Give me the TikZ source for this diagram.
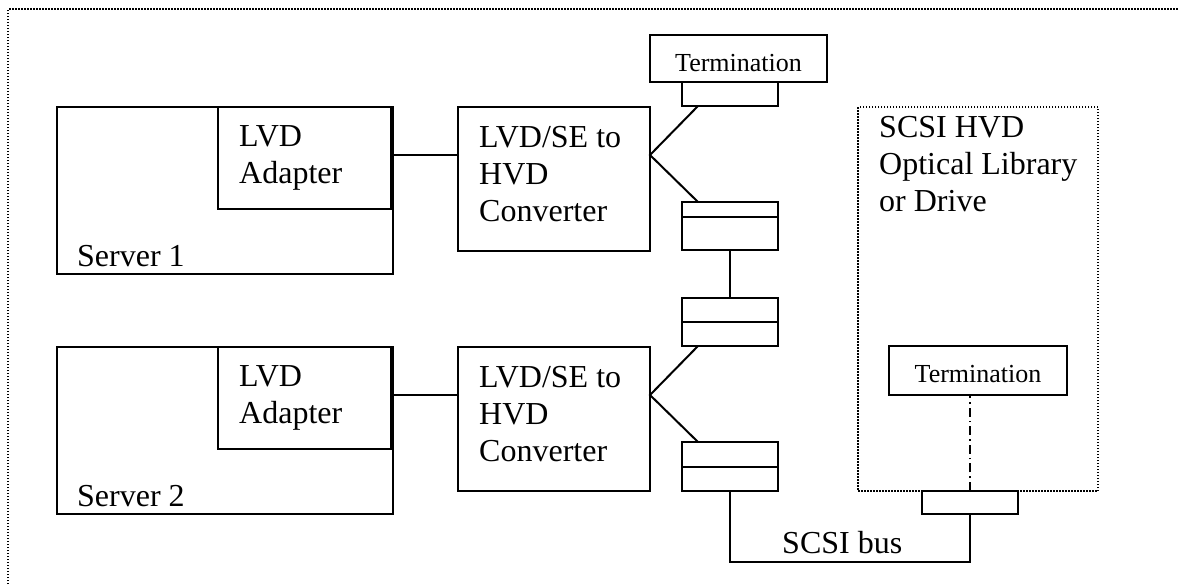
\documentclass[tikz,border=0pt]{standalone}
\usepackage{fontspec}
\setmainfont{Liberation Serif}
\begin{document}
\begin{tikzpicture}[x=1pt,y=-1pt,
  box/.style={draw,line width=2pt,inner sep=0pt,outer sep=0pt,anchor=north west},
  wire/.style={line width=2pt},
  frame/.style={line width=1.8pt,dash pattern=on 1.5pt off 1.5pt},
  dashdot/.style={line width=2pt,dash pattern=on 9pt off 4pt on 1.6pt off 4pt},
  big/.style={font=\fontsize{32}{36.7}\selectfont,inner sep=0pt,anchor=base west,align=left},
  small/.style={font=\fontsize{26}{30}\selectfont,inner sep=0pt,anchor=base}]
\useasboundingbox (0,0) rectangle (1178,584);
% outer frame (only top and left edges are visible)
\draw[frame] (8,584) -- (8,9) -- (1178,9);
% servers
\node[box,minimum width=336pt,minimum height=167pt] (s1) at (57,107) {};
\node[box,minimum width=173pt,minimum height=102pt] (a1) at (218,107) {};
\node[box,minimum width=336pt,minimum height=167pt] (s2) at (57,347) {};
\node[box,minimum width=173pt,minimum height=102pt] (a2) at (218,347) {};
\node[big] (s1t) at (77,266) {Server 1};
\node[big] (s2t) at (77,506) {Server 2};
\node[big] (a1t) at (239,183) {LVD\\Adapter};
\node[big] (a2t) at (239,423) {LVD\\Adapter};
% converters
\node[box,minimum width=192pt,minimum height=144pt] (c1) at (458,107) {};
\node[box,minimum width=192pt,minimum height=144pt] (c2) at (458,347) {};
\node[big] (c1t) at (479,221) {LVD/SE to\\HVD\\Converter};
\node[big] (c2t) at (479,461) {LVD/SE to\\HVD\\Converter};
% termination 1
\node[box,minimum width=177pt,minimum height=47pt] (t1) at (650,35) {};
\node[small] (t1t) at (738.5,71) {Termination};
\node[box,minimum width=96pt,minimum height=24pt] (t1s) at (682,82) {};
% connectors (split boxes)
\node[box,minimum width=96pt,minimum height=48pt] (k1) at (682,202) {};
\draw[wire] (k1.west |- 0,217) -- (k1.east |- 0,217);
\node[box,minimum width=96pt,minimum height=48pt] (k2) at (682,298) {};
\draw[wire] (k2.west |- 0,322) -- (k2.east |- 0,322);
\node[box,minimum width=96pt,minimum height=49pt] (k3) at (682,442) {};
\draw[wire] (k3.west |- 0,467) -- (k3.east |- 0,467);
% optical library (dotted)
\node[box,frame,minimum width=240pt,minimum height=384pt] (d) at (858,107) {};
\node[big] (dt) at (879,211) {SCSI HVD\\Optical Library\\or Drive};
\node[box,minimum width=178pt,minimum height=49pt] (t2) at (889,346) {};
\node[small] (t2t) at (978,382) {Termination};
\node[box,fill=white,minimum width=96pt,minimum height=23pt] (b) at (922,491) {};
% coordinates
\coordinate (j1) at (650,155);
\coordinate (j2) at (650,395);
\coordinate (bus) at (730,562);
% wiring
\draw[wire] (s1.east |- j1) -- (c1.west |- j1);
\draw[wire] (s2.east |- j2) -- (c2.west |- j2);
\draw[wire] ([xshift=16pt]t1s.south west) -- (j1) -- ([xshift=16pt]k1.north west);
\draw[wire] ([xshift=16pt]k2.south west) -- (j2) -- ([xshift=16pt]k3.north west);
\draw[wire] (k1.south) -- (k2.north);
\draw[wire] (k3.south) -- (bus) -- (b.south |- bus) -- (b.south);
\draw[dashdot] (b.north) -- (b.north |- t2.south);
\node[big] (bust) at (782,553) {SCSI bus};
\end{tikzpicture}
\end{document}
